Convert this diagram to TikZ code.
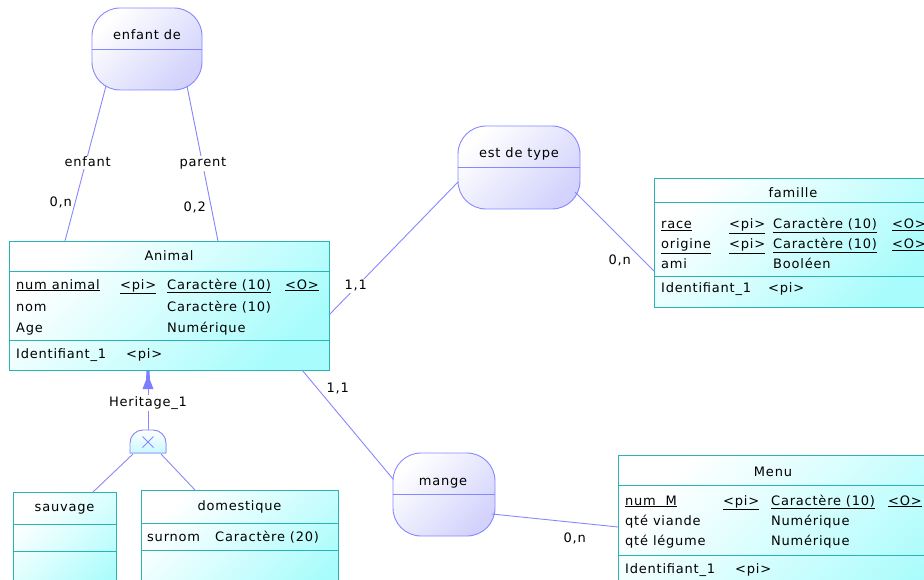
\documentclass[tikz,border=0pt]{standalone}
\usepackage{fontspec}
\setmainfont[LetterSpace=6]{DejaVu Sans}
\definecolor{entc}{RGB}{40,180,180}
\definecolor{entfill}{RGB}{168,252,252}
\definecolor{relc}{RGB}{135,135,255}
\definecolor{relfill}{RGB}{210,210,252}
\definecolor{linkc}{RGB}{135,135,255}
\definecolor{inhfill}{RGB}{200,248,255}
\definecolor{arrc}{RGB}{125,125,255}
\begin{document}
\begin{tikzpicture}[x=1pt,y=-1pt,
  every node/.style={font=\fontsize{13}{15}\selectfont, text=black},
  ent/.style={draw=entc, line width=1pt, rectangle, anchor=north west, inner sep=0pt,
    top color=white, bottom color=entfill, shading angle=45},
  entsep/.style={draw=entc, line width=1pt},
  rel/.style={draw=relc, line width=0.9pt, rectangle, rounded corners=28pt, inner sep=0pt,
    top color=white, bottom color=relfill, shading angle=45},
  relsep/.style={draw=relc, line width=0.9pt},
  lnk/.style={draw=linkc, line width=0.9pt},
  txt/.style={anchor=base west, inner sep=0pt},
  ctxt/.style={anchor=base, inner sep=0pt},
  lbl/.style={anchor=base west, inner sep=1.5pt, fill=white},
]
\useasboundingbox (0,0) rectangle (924,580);
\clip (0,0) rectangle (924,580);

% ---------- relationships ----------
\node[rel, minimum width=110pt, minimum height=82pt] (ed) at (147,49) {};
\draw[relsep] (ed.west) -- (ed.east);
\node[ctxt] (edt) at (147,40) {enfant de};

\node[rel, minimum width=122pt, minimum height=83pt] (et) at (519,167.5) {};
\draw[relsep] (et.west) -- (et.east);
\node[ctxt] (ett) at (519,158) {est de type};

\node[rel, minimum width=102pt, minimum height=83pt] (mg) at (444,494.5) {};
\draw[relsep] (mg.west) -- (mg.east);
\node[ctxt] (mgt) at (443,485) {mange};

% ---------- entities ----------
% Animal
\node[ent, minimum width=320pt, minimum height=129pt] (animal) at (9,241) {};
\draw[entsep] ([yshift=-31pt]animal.north west) -- ([yshift=-31pt]animal.north east);
\draw[entsep] ([yshift=-99pt]animal.north west) -- ([yshift=-99pt]animal.north east);
\node[ctxt] (animalh) at (169,261) {Animal};
\node[txt] (a11) at (16,289) {\underline{num animal}};
\node[txt] (a12) at (120,289) {\underline{<pi>}};
\node[txt] (a13) at (167,289) {\underline{Caractère (10)}};
\node[txt] (a14) at (285,289) {\underline{<O>}};
\node[txt] (a21) at (16,311) {nom};
\node[txt] (a23) at (167,311) {Caractère (10)};
\node[txt] (a31) at (16,332) {Age};
\node[txt] (a33) at (167,332) {Numérique};
\node[txt] (a41) at (16,358) {Identifiant\_1};
\node[txt] (a42) at (126,358) {<pi>};

% famille
\node[ent, minimum width=278pt, minimum height=129pt] (famille) at (654,178) {};
\draw[entsep] ([yshift=-25pt]famille.north west) -- ([yshift=-25pt]famille.north east);
\draw[entsep] ([yshift=-99pt]famille.north west) -- ([yshift=-99pt]famille.north east);
\node[ctxt] (familleh) at (793,198) {famille};
\node[txt] (f11) at (661,229) {\underline{race}};
\node[txt] (f12) at (729,229) {\underline{<pi>}};
\node[txt] (f13) at (773,229) {\underline{Caractère (10)}};
\node[txt] (f14) at (892,229) {\underline{<O>}};
\node[txt] (f21) at (661,249) {\underline{origine}};
\node[txt] (f22) at (729,249) {\underline{<pi>}};
\node[txt] (f23) at (773,249) {\underline{Caractère (10)}};
\node[txt] (f24) at (892,249) {\underline{<O>}};
\node[txt] (f31) at (661,269) {ami};
\node[txt] (f33) at (773,269) {Booléen};
\node[txt] (f41) at (661,292) {Identifiant\_1};
\node[txt] (f42) at (768,292) {<pi>};

% Menu
\node[ent, minimum width=310pt, minimum height=200pt] (menu) at (618,455) {};
\draw[entsep] ([yshift=-30pt]menu.north west) -- ([yshift=-30pt]menu.north east);
\draw[entsep] ([yshift=-100pt]menu.north west) -- ([yshift=-100pt]menu.north east);
\node[ctxt] (menuh) at (773,476) {Menu};
\node[txt] (m11) at (625,505) {\underline{num\ \ M}};
\node[txt] (m12) at (723,505) {\underline{<pi>}};
\node[txt] (m13) at (771,505) {\underline{Caractère (10)}};
\node[txt] (m14) at (888,505) {\underline{<O>}};
\node[txt] (m21) at (625,525) {qté viande};
\node[txt] (m23) at (771,525) {Numérique};
\node[txt] (m31) at (625,545) {qté légume};
\node[txt] (m33) at (771,545) {Numérique};
\node[txt] (m41) at (625,573) {Identifiant\_1};
\node[txt] (m42) at (735,573) {<pi>};

% sauvage
\node[ent, minimum width=103pt, minimum height=120pt] (sauvage) at (13,492) {};
\draw[entsep] ([yshift=-32pt]sauvage.north west) -- ([yshift=-32pt]sauvage.north east);
\draw[entsep] ([yshift=-59pt]sauvage.north west) -- ([yshift=-59pt]sauvage.north east);
\node[ctxt] (sauvageh) at (64.5,511) {sauvage};

% domestique
\node[ent, minimum width=197pt, minimum height=120pt] (domestique) at (141,490) {};
\draw[entsep] ([yshift=-33pt]domestique.north west) -- ([yshift=-33pt]domestique.north east);
\draw[entsep] ([yshift=-60pt]domestique.north west) -- ([yshift=-60pt]domestique.north east);
\node[ctxt] (domestiqueh) at (239.5,510) {domestique};
\node[txt] (d11) at (147,541) {surnom};
\node[txt] (d12) at (215,541) {Caractère (20)};

% ---------- connectors ----------
\coordinate (edL) at (106,86);
\coordinate (edR) at (187,86);
\coordinate (anL) at (65,241);
\coordinate (anR) at (218,241);
\draw[lnk] (edL) -- (anL);
\draw[lnk] (edR) -- (anR);

\coordinate (etL) at (458,182);
\coordinate (etR) at (575,192);
\coordinate (anE) at (329,315);
\coordinate (faW) at (654,271);
\draw[lnk] (anE) -- (etL);
\draw[lnk] (etR) -- (faW);

\coordinate (mgL) at (393,479);
\coordinate (mgR) at (492,514);
\coordinate (anS) at (302,370);
\coordinate (meW) at (618,527);
\draw[lnk] (anS) -- (mgL);
\draw[lnk] (mgR) -- (meW);

% ---------- inheritance ----------
\coordinate (inhtop) at (148,430);
\coordinate (arrbase) at (148,389);
\coordinate (inhBL) at (133,454);
\coordinate (inhBR) at (161,454);
\coordinate (sauvT) at (93,492);
\coordinate (domT) at (195,490);
\draw[lnk] (inhtop) -- (arrbase);
\fill[arrc] (146.5,371) -- (149.5,371) -- (150,380) -- (153.5,389) -- (142.5,389) -- (146,380) -- cycle;
\draw[lnk] (inhBL) -- (sauvT);
\draw[lnk] (inhBR) -- (domT);
\filldraw[draw=relc, line width=0.9pt, top color=white, bottom color=inhfill]
  (130,453) [rounded corners=13pt] -- (130,430) -- (166,430) [sharp corners] -- (166,453) -- cycle;
\draw[draw=relc, line width=0.8pt] (142.5,436.5) -- (153.5,447.5) (142.5,447.5) -- (153.5,436.5);

% ---------- labels ----------
\node[lbl] (l1) at (63,167) {enfant};
\node[lbl] (l2) at (178,167) {parent};
\node[lbl] (l3) at (48,207) {0,n};
\node[lbl] (l4) at (182,212) {0,2};
\node[lbl] (l5) at (343,290) {1,1};
\node[lbl] (l6) at (607,265) {0,n};
\node[lbl] (l7) at (325,392) {1,1};
\node[lbl] (l8) at (562,542) {0,n};
\node[lbl, anchor=base] (l9) at (148,406) {Heritage\_1};
\end{tikzpicture}
\end{document}
